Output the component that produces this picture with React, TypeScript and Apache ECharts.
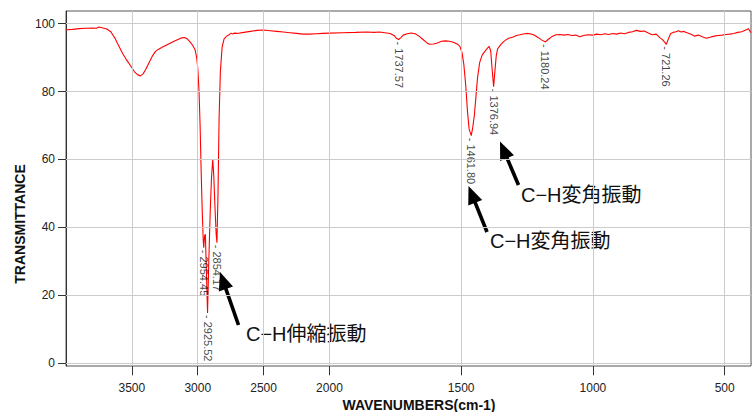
import React, { useEffect, useRef } from "react";
import * as echarts from "echarts";

// Spectrum (wavenumber cm-1, % transmittance)
const wavenumbers = [
  4000, 3950, 3900, 3850, 3800, 3770, 3750, 3720, 3690, 3660, 3630, 3600, 3570, 3540, 3510, 3480, 3455, 3435, 3415, 3395,
  3370, 3345, 3320, 3300, 3270, 3240, 3210, 3180, 3150, 3120, 3100, 3080, 3060, 3040, 3020, 3008, 3000, 2990, 2982, 2975,
  2966, 2958, 2954.45, 2948, 2942, 2935, 2925.52, 2916, 2905, 2895, 2886, 2878, 2868, 2860, 2854.17, 2846, 2838, 2828, 2815, 2800,
  2780, 2760, 2745, 2735, 2725, 2700, 2650, 2600, 2550, 2500, 2450, 2400, 2350, 2300, 2250, 2200, 2150, 2100, 2050, 2000,
  1950, 1900, 1860, 1830, 1810, 1790, 1770, 1755, 1745, 1737.57, 1730, 1720, 1705, 1690, 1675, 1660, 1645, 1630, 1620, 1605,
  1590, 1575, 1560, 1545, 1530, 1515, 1505, 1497, 1490, 1483, 1476, 1470, 1461.8, 1456, 1450, 1444, 1438, 1430, 1420, 1410,
  1400, 1394, 1388, 1383, 1376.94, 1372, 1367, 1362, 1350, 1340, 1330, 1320, 1305, 1290, 1277, 1260, 1250, 1239, 1225, 1210,
  1195, 1180.24, 1170, 1157, 1140, 1125, 1110, 1095, 1080, 1065, 1050, 1035, 1020, 1000, 985, 970, 955, 940, 925, 910,
  895, 880, 865, 850, 835, 820, 805, 790, 775, 760, 745, 735, 721.26, 712, 705, 695, 685, 675, 665, 655,
  640, 625, 615, 600, 585, 570, 555, 540, 525, 510, 495, 480, 466, 450, 435, 420, 410, 400,
];
const transmittance = [
  98.2, 98.3, 98.5, 98.6, 98.7, 98.6, 99.0, 98.7, 98.4, 97.6, 95.8, 93.5, 91.2, 89.3, 87.6, 85.8, 84.9, 84.6, 85.2, 86.5,
  88.5, 90.4, 91.8, 92.4, 93.0, 93.6, 94.2, 94.8, 95.3, 95.8, 95.9, 95.5, 94.7, 93.7, 92.3, 90.0, 87.0, 80.0, 70.0, 58.0,
  45.0, 36.0, 34.0, 37.5, 38.0, 28.0, 14.8, 30.0, 45.0, 55.0, 60.0, 55.0, 45.0, 38.0, 35.5, 50.0, 72.0, 86.0, 93.0, 95.5,
  96.3, 96.8, 97.2, 96.9, 97.2, 97.1, 97.4, 97.7, 98.0, 98.1, 97.9, 97.7, 97.5, 97.3, 97.1, 96.9, 96.9, 97.0, 97.1, 97.2,
  97.3, 97.4, 97.5, 97.4, 97.5, 97.3, 97.1, 96.5, 95.6, 95.3, 95.8, 96.6, 97.0, 97.2, 97.0, 96.3, 95.3, 94.3, 93.9, 94.0,
  94.3, 94.8, 94.9, 94.8, 94.5, 94.0, 93.3, 91.5, 88.0, 82.0, 74.0, 69.0, 67.0, 69.5, 73.0, 78.5, 84.0, 88.5, 90.8, 91.8,
  92.8, 93.3, 92.0, 87.0, 81.4, 86.0, 90.5, 92.5, 93.8, 94.6, 95.2, 95.7, 96.0, 96.5, 96.7, 97.0, 97.1, 97.0, 96.7, 96.0,
  95.2, 94.6, 95.3, 96.1, 96.7, 96.8, 96.6, 96.8, 96.5, 96.6, 96.1, 96.5, 96.7, 96.6, 96.9, 96.7, 97.0, 96.8, 97.1, 96.9,
  97.2, 97.0, 97.4, 97.6, 98.0, 97.7, 97.8, 97.2, 96.7, 96.9, 95.8, 95.2, 93.9, 95.8, 97.1, 97.4, 97.6, 97.9, 97.5, 97.7,
  97.2, 96.8, 96.3, 96.6, 96.1, 95.7, 96.0, 96.3, 96.5, 96.6, 96.8, 96.9, 97.1, 97.4, 97.6, 98.1, 98.5, 97.3,
];

// Labelled peaks
const peakWavenumbers = [2954.45, 2925.52, 2854.17, 1737.57, 1461.8, 1376.94, 1180.24, 721.26];
const peakLabels = ["2954.45", "2925.52", "2854.17", "1737.57", "1461.80", "1376.94", "1180.24", "721.26"];
const peakValues = [34.0, 14.8, 35.5, 95.3, 67.0, 81.4, 94.6, 93.9];

// Axis ticks
const xTickWavenumbers = [3500, 3000, 2500, 2000, 1500, 1000, 500];
const yTickValues = [0, 20, 40, 60, 80, 100];

// Annotations
const annotationTexts = ["C−H伸縮振動", "C−H変角振動", "C−H変角振動"];

// Wavenumber axis is compressed 2x above 2000 cm-1
const toAxis = (w: number) => (w >= 2000 ? (4000 - w) / 2 : 1000 + (2000 - w));
const fromAxis = (u: number) => (u <= 1000 ? 4000 - 2 * u : 2000 - (u - 1000));

function arrow(tail: [number, number], tip: [number, number]) {
  const dx = tip[0] - tail[0];
  const dy = tip[1] - tail[1];
  const len = Math.sqrt(dx * dx + dy * dy);
  const ux = dx / len;
  const uy = dy / len;
  const L = 18;
  const W = 7.5;
  const bx = tip[0] - ux * L;
  const by = tip[1] - uy * L;
  const nx = -uy;
  const ny = ux;
  return [
    {
      type: "line",
      shape: { x1: tail[0], y1: tail[1], x2: bx + ux * 2, y2: by + uy * 2 },
      style: { stroke: "#000", lineWidth: 3.6 },
    },
    {
      type: "polygon",
      shape: {
        points: [
          [tip[0], tip[1]],
          [bx + nx * W, by + ny * W],
          [bx - nx * W, by - ny * W],
        ],
      },
      style: { fill: "#000" },
    },
  ];
}

export default function App() {
  const ref = useRef<HTMLDivElement>(null);
  useEffect(() => {
    if (!ref.current) return;
    const chart = echarts.init(ref.current, undefined, { renderer: "svg" });
    const lineData = wavenumbers.map((w, i) => [toAxis(w), transmittance[i]]);
    const peakData = peakWavenumbers.map((w, i) => ({ value: [toAxis(w), peakValues[i]], name: peakLabels[i] }));
    const fontFamily = "'Liberation Sans', Arial, sans-serif";
    const annFont = "'Liberation Sans', 'Noto Sans CJK JP', sans-serif";
    chart.setOption({
      animation: false,
      backgroundColor: "#fff",
      grid: {
        left: 66,
        right: 5,
        top: 11,
        bottom: 46,
        show: true,
        borderColor: "#555",
        borderWidth: 1,
        backgroundColor: "transparent",
      },
      xAxis: {
        type: "value",
        min: 0,
        max: 2600,
        axisLine: { show: true, lineStyle: { color: "#333", width: 1 } },
        axisTick: {
          show: true,
          length: 12,
          customValues: xTickWavenumbers.map(toAxis),
          lineStyle: { color: "#333" },
        },
        axisLabel: {
          customValues: xTickWavenumbers.map(toAxis),
          formatter: (v: number) => String(Math.round(fromAxis(v))),
          margin: 16,
          color: "#222",
          fontSize: 12,
          fontFamily,
        },
        splitLine: { show: false },
      },
      yAxis: {
        type: "value",
        min: -0.8,
        max: 103.7,
        axisLine: { show: true, lineStyle: { color: "#333", width: 1 } },
        axisTick: {
          show: true,
          length: 8,
          customValues: yTickValues,
          lineStyle: { color: "#333" },
        },
        axisLabel: {
          customValues: yTickValues,
          margin: 11,
          color: "#222",
          fontSize: 12,
          fontFamily,
        },
        splitLine: { show: false },
      },
      series: [
        {
          type: "line",
          data: [],
          z: 1,
          silent: true,
          markLine: {
            silent: true,
            symbol: "none",
            label: { show: false },
            lineStyle: { color: "#cccccc", width: 1, type: "solid" },
            data: [
              ...xTickWavenumbers.map((w) => ({ xAxis: toAxis(w) })),
              ...yTickValues.map((v) => ({ yAxis: v })),
            ],
          },
        },
        {
          type: "line",
          data: lineData,
          z: 3,
          showSymbol: false,
          symbol: "none",
          lineStyle: { color: "#ff0000", width: 1.1 },
        },
        {
          type: "scatter",
          data: peakData,
          z: 4,
          symbolSize: 0,
          label: {
            show: true,
            formatter: (p: any) => "- " + p.name,
            position: "bottom",
            distance: 2,
            rotate: -90,
            align: "left",
            verticalAlign: "middle",
            fontSize: 11,
            color: "#111",
            fontFamily,
          },
        },
      ],
      graphic: [
        {
          type: "text",
          x: 20,
          y: 224,
          rotation: Math.PI / 2,
          style: {
            text: "TRANSMITTANCE",
            font: `bold 14px ${fontFamily}`,
            fill: "#111",
            align: "center",
            verticalAlign: "middle",
          },
        },
        {
          type: "text",
          x: 419,
          y: 405,
          style: {
            text: "WAVENUMBERS(cm-1)",
            font: `bold 14px ${fontFamily}`,
            fill: "#111",
            align: "center",
            verticalAlign: "middle",
          },
        },
        ...arrow([238.5, 325], [220, 272]),
        ...arrow([487, 232], [468.5, 186]),
        ...arrow([518.5, 185], [500, 141.5]),
        {
          type: "text",
          x: 246,
          y: 334,
          style: { text: annotationTexts[0], font: `20px ${annFont}`, fill: "#111", verticalAlign: "middle" },
        },
        {
          type: "text",
          x: 521,
          y: 195,
          style: { text: annotationTexts[1], font: `20px ${annFont}`, fill: "#111", verticalAlign: "middle" },
        },
        {
          type: "text",
          x: 490,
          y: 241,
          style: { text: annotationTexts[2], font: `20px ${annFont}`, fill: "#111", verticalAlign: "middle" },
        },
      ],
    });
    return () => chart.dispose();
  }, []);
  return <div ref={ref} style={{ position: "fixed", left: 0, top: 0, width: 756, height: 412 }} />;
}
